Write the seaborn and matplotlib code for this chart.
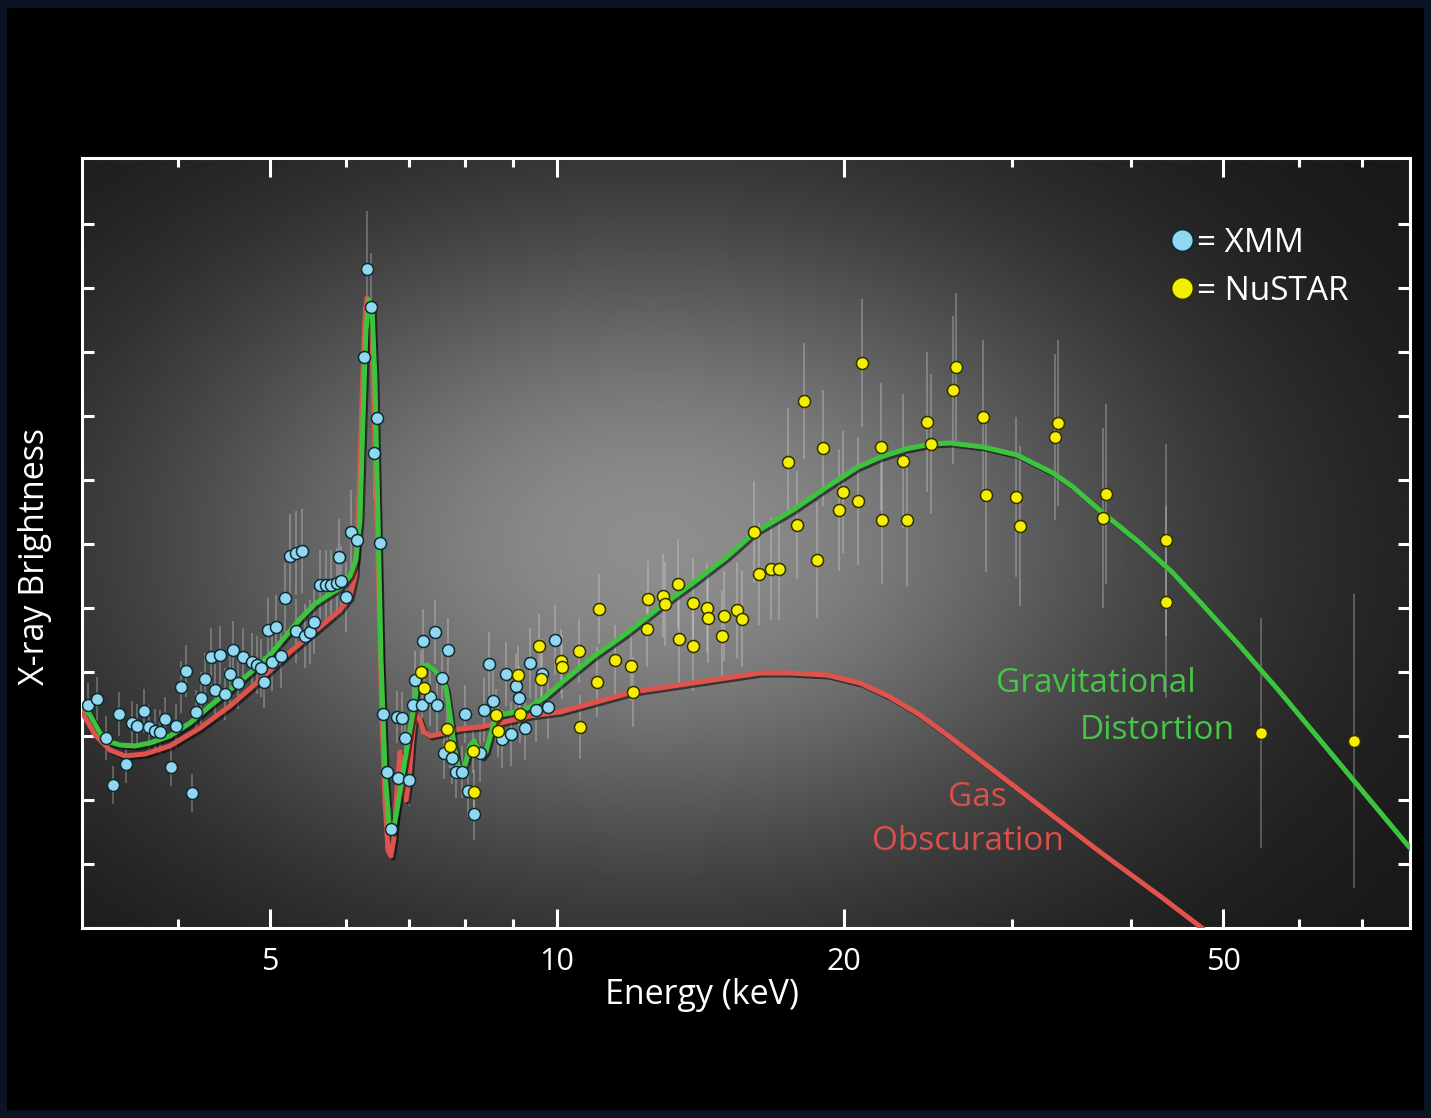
import numpy as np
import pandas as pd
import matplotlib
matplotlib.use("Agg")
import matplotlib.pyplot as plt
import matplotlib.patheffects as pe
from matplotlib.lines import Line2D
from matplotlib.patches import Rectangle
from matplotlib.ticker import FixedLocator, FixedFormatter, NullFormatter, NullLocator
import seaborn as sns

sns.set_style("ticks")
plt.rcParams['font.family'] = ['Open Sans', 'DejaVu Sans']

# ---------------- data ----------------
xmm_energy = [3.221, 3.291, 3.363, 3.421, 3.471, 3.530, 3.582, 3.625, 3.687, 3.732,
              3.786, 3.832, 3.878, 3.935, 3.982, 4.032, 4.081, 4.139, 4.180, 4.231,
              4.272, 4.335, 4.377, 4.430, 4.484, 4.539, 4.571, 4.627, 4.683, 4.786,
              4.844, 4.891, 4.926, 5.023, 5.133,
              4.975, 5.072, 5.183, 5.247, 5.322, 5.401, 5.322, 5.440, 5.506, 5.559,
              5.641, 5.723, 5.793, 5.878, 5.935, 6.007, 5.906, 6.079, 6.168, 6.273,
              6.319, 6.380, 6.426, 6.474, 6.521,
              6.568, 6.632, 6.696, 6.795, 6.811, 6.877, 6.927, 6.995, 7.063, 7.097,
              7.217, 7.235, 7.359, 7.448, 7.484, 7.575, 7.612, 7.686, 7.760, 7.836,
              7.949, 8.007, 8.065, 8.184, 8.303, 8.384, 8.486, 8.568, 8.756, 8.841,
              8.949, 9.058, 9.124, 9.257, 9.370, 9.507, 9.644, 9.786, 9.952]
xmm_flux = [34.84, 35.78, 29.69, 22.34, 33.44, 25.63, 32.03, 31.56, 33.91, 31.41,
            30.78, 30.63, 32.66, 25.16, 31.56, 37.66, 40.16, 21.09, 33.75, 35.94,
            38.91, 42.34, 37.19, 42.66, 36.56, 39.69, 43.44, 38.28, 42.34, 41.56,
            41.09, 40.63, 38.44, 41.56, 42.5,
            46.56, 47.03, 51.56, 58.13, 58.59, 58.91, 46.41, 45.63, 46.25, 47.81,
            53.59, 53.59, 53.59, 53.91, 54.22, 51.72, 57.97, 61.88, 60.63, 89.22,
            102.97, 97.03, 74.22, 79.69, 60.16,
            33.44, 24.38, 15.47, 32.97, 23.44, 32.81, 29.69, 23.13, 34.84, 38.75,
            34.84, 44.84, 36.09, 46.25, 34.84, 39.06, 27.34, 43.44, 26.56, 24.38,
            24.38, 33.44, 21.41, 17.81, 27.34, 34.06, 41.25, 35.47, 29.53, 39.69,
            30.31, 37.81, 35.94, 31.25, 41.41, 34.06, 39.69, 34.53, 45.0]
xmm_err = [3.5, 3.5, 3.5, 3.0, 3.5, 3.0, 3.5, 3.5, 3.5, 3.5,
           3.5, 3.5, 3.5, 3.0, 3.5, 4.0, 4.0, 3.0, 3.5, 4.0,
           4.0, 4.5, 4.0, 4.5, 4.0, 4.5, 4.5, 4.0, 4.5, 4.5,
           4.5, 4.5, 4.0, 4.5, 5.0,
           5.0, 5.0, 5.5, 6.5, 6.5, 6.5, 5.0, 5.0, 5.0, 5.0,
           5.5, 5.5, 5.5, 5.5, 5.5, 5.5, 6.0, 6.5, 6.5, 8.0,
           9.0, 8.5, 7.0, 7.5, 6.0,
           4.0, 4.0, 3.5, 4.0, 4.0, 4.0, 4.0, 4.0, 4.5, 4.5,
           4.5, 5.0, 4.5, 5.0, 4.5, 4.5, 4.0, 5.0, 4.0, 4.0,
           4.0, 4.5, 4.0, 4.0, 4.5, 5.0, 5.0, 5.0, 4.5, 5.0,
           5.0, 5.0, 5.0, 5.0, 5.5, 5.0, 5.5, 5.0, 5.5]

nustar_energy = [7.200, 7.253, 7.667, 7.723, 8.163, 8.184, 8.631, 8.672, 9.102, 9.146,
                 9.575, 9.621, 10.097, 10.121, 10.546, 10.572, 11.015, 11.068, 11.505, 11.959,
                 12.017, 12.430, 12.460, 12.919, 12.981, 13.396, 13.429, 13.891, 13.891, 14.369,
                 14.404, 14.898, 14.972, 15.449, 15.636, 16.098, 16.292, 16.771, 17.098, 17.474,
                 17.858, 18.163, 18.743, 19.017, 19.766, 19.958, 20.694, 20.894, 21.877, 21.929,
                 23.072, 23.296, 24.450, 24.687, 26.035, 26.225, 27.992, 28.196, 30.317, 30.611,
                 33.311, 33.55, 37.41, 37.68, 43.56, 43.56, 54.80, 68.61]
nustar_flux = [40.0, 37.5, 31.09, 28.44, 27.66, 21.25, 33.28, 30.78, 39.53, 33.44,
               44.06, 38.91, 41.72, 40.78, 43.28, 31.41, 38.44, 49.84, 41.88, 40.94,
               36.88, 46.72, 51.41, 51.88, 50.63, 53.75, 45.16, 50.78, 44.06, 50.0,
               48.44, 45.63, 48.75, 49.69, 48.28, 61.88, 55.31, 56.09, 56.09, 72.81,
               62.97, 82.34, 57.5, 75.0, 65.31, 68.13, 66.72, 88.28, 75.16, 63.75,
               72.97, 63.75, 79.06, 75.63, 84.06, 87.66, 79.84, 67.66, 67.34, 62.81,
               76.72, 78.91, 64.06, 67.81, 60.63, 50.94, 30.47, 29.22]
nustar_err = [3.5, 3.5, 3.5, 3.5, 3.5, 3.5, 4.0, 4.0, 4.5, 4.5,
              5.0, 5.0, 5.0, 5.0, 5.0, 5.0, 5.5, 5.5, 5.5, 5.5,
              5.5, 6.0, 6.0, 6.5, 6.5, 7.0, 7.0, 7.0, 7.0, 7.0,
              7.0, 7.0, 7.0, 7.5, 7.5, 8.0, 8.0, 8.0, 8.0, 8.5,
              8.5, 9.0, 9.0, 9.0, 9.5, 9.5, 10.0, 10.0, 10.0, 10.0,
              10.5, 10.5, 11.0, 11.0, 11.5, 11.5, 12.0, 12.0, 12.5, 12.5,
              13.0, 13.0, 14.0, 14.0, 15.0, 15.0, 18.0, 23.0]

grav_energy = [3.174, 3.236, 3.315, 3.396, 3.479, 3.608, 3.741, 3.925, 4.120, 4.324,
               4.539, 4.763, 4.999, 5.183, 5.375, 5.572, 5.779, 5.921, 6.065, 6.152,
               6.213, 6.258, 6.304, 6.350, 6.395, 6.442, 6.490, 6.537, 6.600, 6.664,
               6.729, 6.795, 6.861, 6.927, 6.995, 7.063, 7.131, 7.200, 7.306, 7.431,
               7.557, 7.649, 7.723, 7.798, 7.873, 7.949, 8.027, 8.105, 8.184, 8.263,
               8.343, 8.424, 8.507, 8.589, 8.714, 8.928, 9.146, 9.370, 9.715, 10.073,
               10.909, 11.844, 12.826, 13.891, 15.080, 16.098, 17.687, 19.201, 20.694, 21.877,
               23.240, 24.687, 25.847, 27.992, 30.389, 33.151, 34.79, 37.41, 40.91, 44.31,
               47.29, 52.10, 57.38, 63.20, 69.60, 78.55]
grav_flux = [34.84, 33.28, 30.47, 29.06, 28.59, 28.44, 28.91, 30.0, 32.03, 34.69,
             37.19, 39.84, 42.66, 45.47, 48.28, 50.63, 52.19, 53.13, 55.0, 57.5,
             63.75, 79.38, 93.44, 98.13, 97.34, 85.63, 63.75, 41.88, 24.69, 16.09,
             15.0, 18.44, 22.34, 26.25, 30.16, 33.75, 37.97, 40.78, 41.09, 40.31,
             39.22, 37.5, 33.28, 28.59, 25.47, 24.38, 25.94, 28.44, 29.22, 28.13,
             26.72, 27.5, 29.84, 32.19, 33.28, 33.59, 33.91, 34.53, 36.09, 38.13,
             42.34, 46.09, 50.16, 53.91, 57.97, 61.72, 65.31, 68.91, 72.03, 73.59,
             74.84, 75.63, 75.78, 75.16, 73.91, 71.09, 68.91, 64.84, 60.16, 55.47,
             50.94, 44.06, 36.88, 29.38, 21.88, 12.5]

gas_energy = [3.174, 3.276, 3.396, 3.521, 3.696, 3.925, 4.221, 4.539, 4.879, 5.247,
              5.641, 5.921, 6.065, 6.138, 6.198, 6.243, 6.288, 6.319, 6.365, 6.411,
              6.458, 6.505, 6.553, 6.600, 6.648, 6.696, 6.745, 6.795, 6.844, 6.894,
              6.944, 6.995, 7.046, 7.097, 7.166, 7.253, 7.359, 7.539, 7.911, 8.303,
              8.714, 9.370, 10.073, 11.095, 12.017, 13.891, 16.331, 17.559, 19.201, 20.795,
              22.359, 24.040, 25.847, 27.790, 29.881, 32.127, 34.54, 37.14, 39.93, 42.93,
              47.52]
gas_flux = [33.75, 30.16, 27.81, 26.88, 27.19, 28.44, 31.25, 34.69, 38.75, 43.13,
            47.03, 49.69, 51.72, 55.16, 66.88, 82.5, 95.0, 98.44, 97.34, 87.19,
            70.0, 51.25, 32.5, 20.0, 12.19, 11.25, 14.06, 21.56, 27.5, 22.34,
            20.0, 23.13, 29.38, 33.44, 32.81, 30.63, 30.0, 30.31, 31.09, 31.41,
            32.03, 33.13, 33.75, 35.47, 36.88, 38.28, 39.84, 39.84, 39.53, 38.28,
            36.09, 33.28, 29.84, 26.25, 22.66, 19.06, 15.47, 11.88, 8.44, 5.0,
            0.0]

x_major_ticks = [5, 10, 20, 50]
x_major_labels = ["5", "10", "20", "50"]
x_minor_ticks = [4, 6, 7, 8, 9, 30, 40, 60, 70]
y_ticks = [10, 20, 30, 40, 50, 60, 70, 80, 90, 100, 110]
legend_labels = ["= XMM", "= NuSTAR"]

# ---------------- colours ----------------
C_XMM = '#8fd8ef'
C_NU = '#f4ee00'
C_GREEN = '#3cc43f'
C_RED = '#e0534c'

# ---------------- figure ----------------
W, H = 1431, 1118
fig = plt.figure(figsize=(W / 100, H / 100), dpi=100, facecolor='#0c1424')
fig.patches.append(Rectangle((7 / W, 8 / H), (W - 14) / W, (H - 16) / H,
                             transform=fig.transFigure, facecolor='black',
                             edgecolor='none', zorder=-5))
pos = [82 / W, 1 - 928 / H, 1328 / W, 770 / H]

bg = fig.add_axes(pos, zorder=0)
gx, gy = np.meshgrid(np.linspace(0, 1, 500), np.linspace(0, 1, 300))
grad = 0.075 + 0.48 * np.exp(-(((gx - 0.43) / 0.40) ** 2 + ((gy - 0.50) / 0.45) ** 2))
bg.imshow(grad, cmap='gray', vmin=0, vmax=1, extent=(0, 1, 0, 1), origin='lower',
          aspect='auto', interpolation='bilinear')
bg.set_axis_off()

ax = fig.add_axes(pos, zorder=1)
ax.set_facecolor('none')

df_xmm = pd.DataFrame({'energy': xmm_energy, 'flux': xmm_flux, 'err': xmm_err})
df_nu = pd.DataFrame({'energy': nustar_energy, 'flux': nustar_flux, 'err': nustar_err})
df_grav = pd.DataFrame({'energy': grav_energy, 'flux': grav_flux})
df_gas = pd.DataFrame({'energy': gas_energy, 'flux': gas_flux})

# error bars
for d in (df_xmm, df_nu):
    ax.errorbar(d['energy'], d['flux'], yerr=d['err'], fmt='none',
                ecolor='#e6e6e6', alpha=0.3, elinewidth=1.3, zorder=2)

shadow = [pe.SimpleLineShadow(offset=(1.5, -1.5), shadow_color='black', alpha=0.55),
          pe.Normal()]
sns.lineplot(data=df_gas, x='energy', y='flux', sort=False, estimator=None,
             color=C_RED, lw=3.6, ax=ax, zorder=3, path_effects=shadow,
             solid_joinstyle='round', solid_capstyle='round')
sns.lineplot(data=df_grav, x='energy', y='flux', sort=False, estimator=None,
             color=C_GREEN, lw=3.6, ax=ax, zorder=4, path_effects=shadow,
             solid_joinstyle='round', solid_capstyle='round')

sns.scatterplot(data=df_xmm, x='energy', y='flux', s=75, color=C_XMM,
                edgecolor='#0f2a33', linewidth=1.1, ax=ax, zorder=5, legend=False)
sns.scatterplot(data=df_nu, x='energy', y='flux', s=75, color=C_NU,
                edgecolor='#333000', linewidth=1.1, ax=ax, zorder=6, legend=False)

# axes
ax.set_xscale('log')
ax.set_xlim(3.174, 78.55)
ax.set_ylim(0, 120.31)
ax.xaxis.set_major_locator(FixedLocator(x_major_ticks))
ax.xaxis.set_major_formatter(FixedFormatter(x_major_labels))
ax.xaxis.set_minor_locator(FixedLocator(x_minor_ticks))
ax.xaxis.set_minor_formatter(NullFormatter())
ax.yaxis.set_major_locator(FixedLocator(y_ticks))
ax.yaxis.set_minor_locator(NullLocator())
ax.tick_params(axis='x', which='major', direction='in', length=13.5, width=2.2,
               color='white', top=True, bottom=True, labelsize=22,
               labelcolor='white', pad=14)
ax.tick_params(axis='x', which='minor', direction='in', length=6.5, width=2.2,
               color='white', top=True, bottom=True)
ax.tick_params(axis='y', which='major', direction='in', length=8.6, width=2.2,
               color='white', left=True, right=True, labelleft=False)
for s in ax.spines.values():
    s.set_color('white')
    s.set_linewidth(2.2)
    s.set_visible(True)

ax.set_xlabel('Energy (keV)', color='white', fontsize=24.5)
ax.xaxis.set_label_coords(0.467, -0.0650)
ax.set_ylabel('X-ray Brightness', color='white', fontsize=24.5)
ax.yaxis.set_label_coords(-0.0226, 0.483)

# legend
handles = [Line2D([], [], marker='o', ls='none', markersize=16,
                  markerfacecolor=C_XMM, markeredgecolor='#0f2a33', markeredgewidth=1.5),
           Line2D([], [], marker='o', ls='none', markersize=16,
                  markerfacecolor=C_NU, markeredgecolor='#333000', markeredgewidth=1.5)]
ax.legend(handles, legend_labels, loc='upper left', bbox_to_anchor=(0.806, 0.928),
          frameon=False, fontsize=24, labelcolor='white', handletextpad=0.0,
          handlelength=0.95, labelspacing=0.45, borderaxespad=0)

# annotations
ax.text(0.7636, 0.3169, 'Gravitational', transform=ax.transAxes, ha='center',
        va='center', fontsize=24, color='#46c546', zorder=7)
ax.text(0.8095, 0.2571, 'Distortion', transform=ax.transAxes, ha='center',
        va='center', fontsize=24, color='#46c546', zorder=7)
ax.text(0.6740, 0.1701, 'Gas', transform=ax.transAxes, ha='center',
        va='center', fontsize=24, color='#dc4f4a', zorder=7)
ax.text(0.6672, 0.1117, 'Obscuration', transform=ax.transAxes, ha='center',
        va='center', fontsize=24, color='#dc4f4a', zorder=7)

fig.savefig('out.png', dpi=100, facecolor=fig.get_facecolor())
